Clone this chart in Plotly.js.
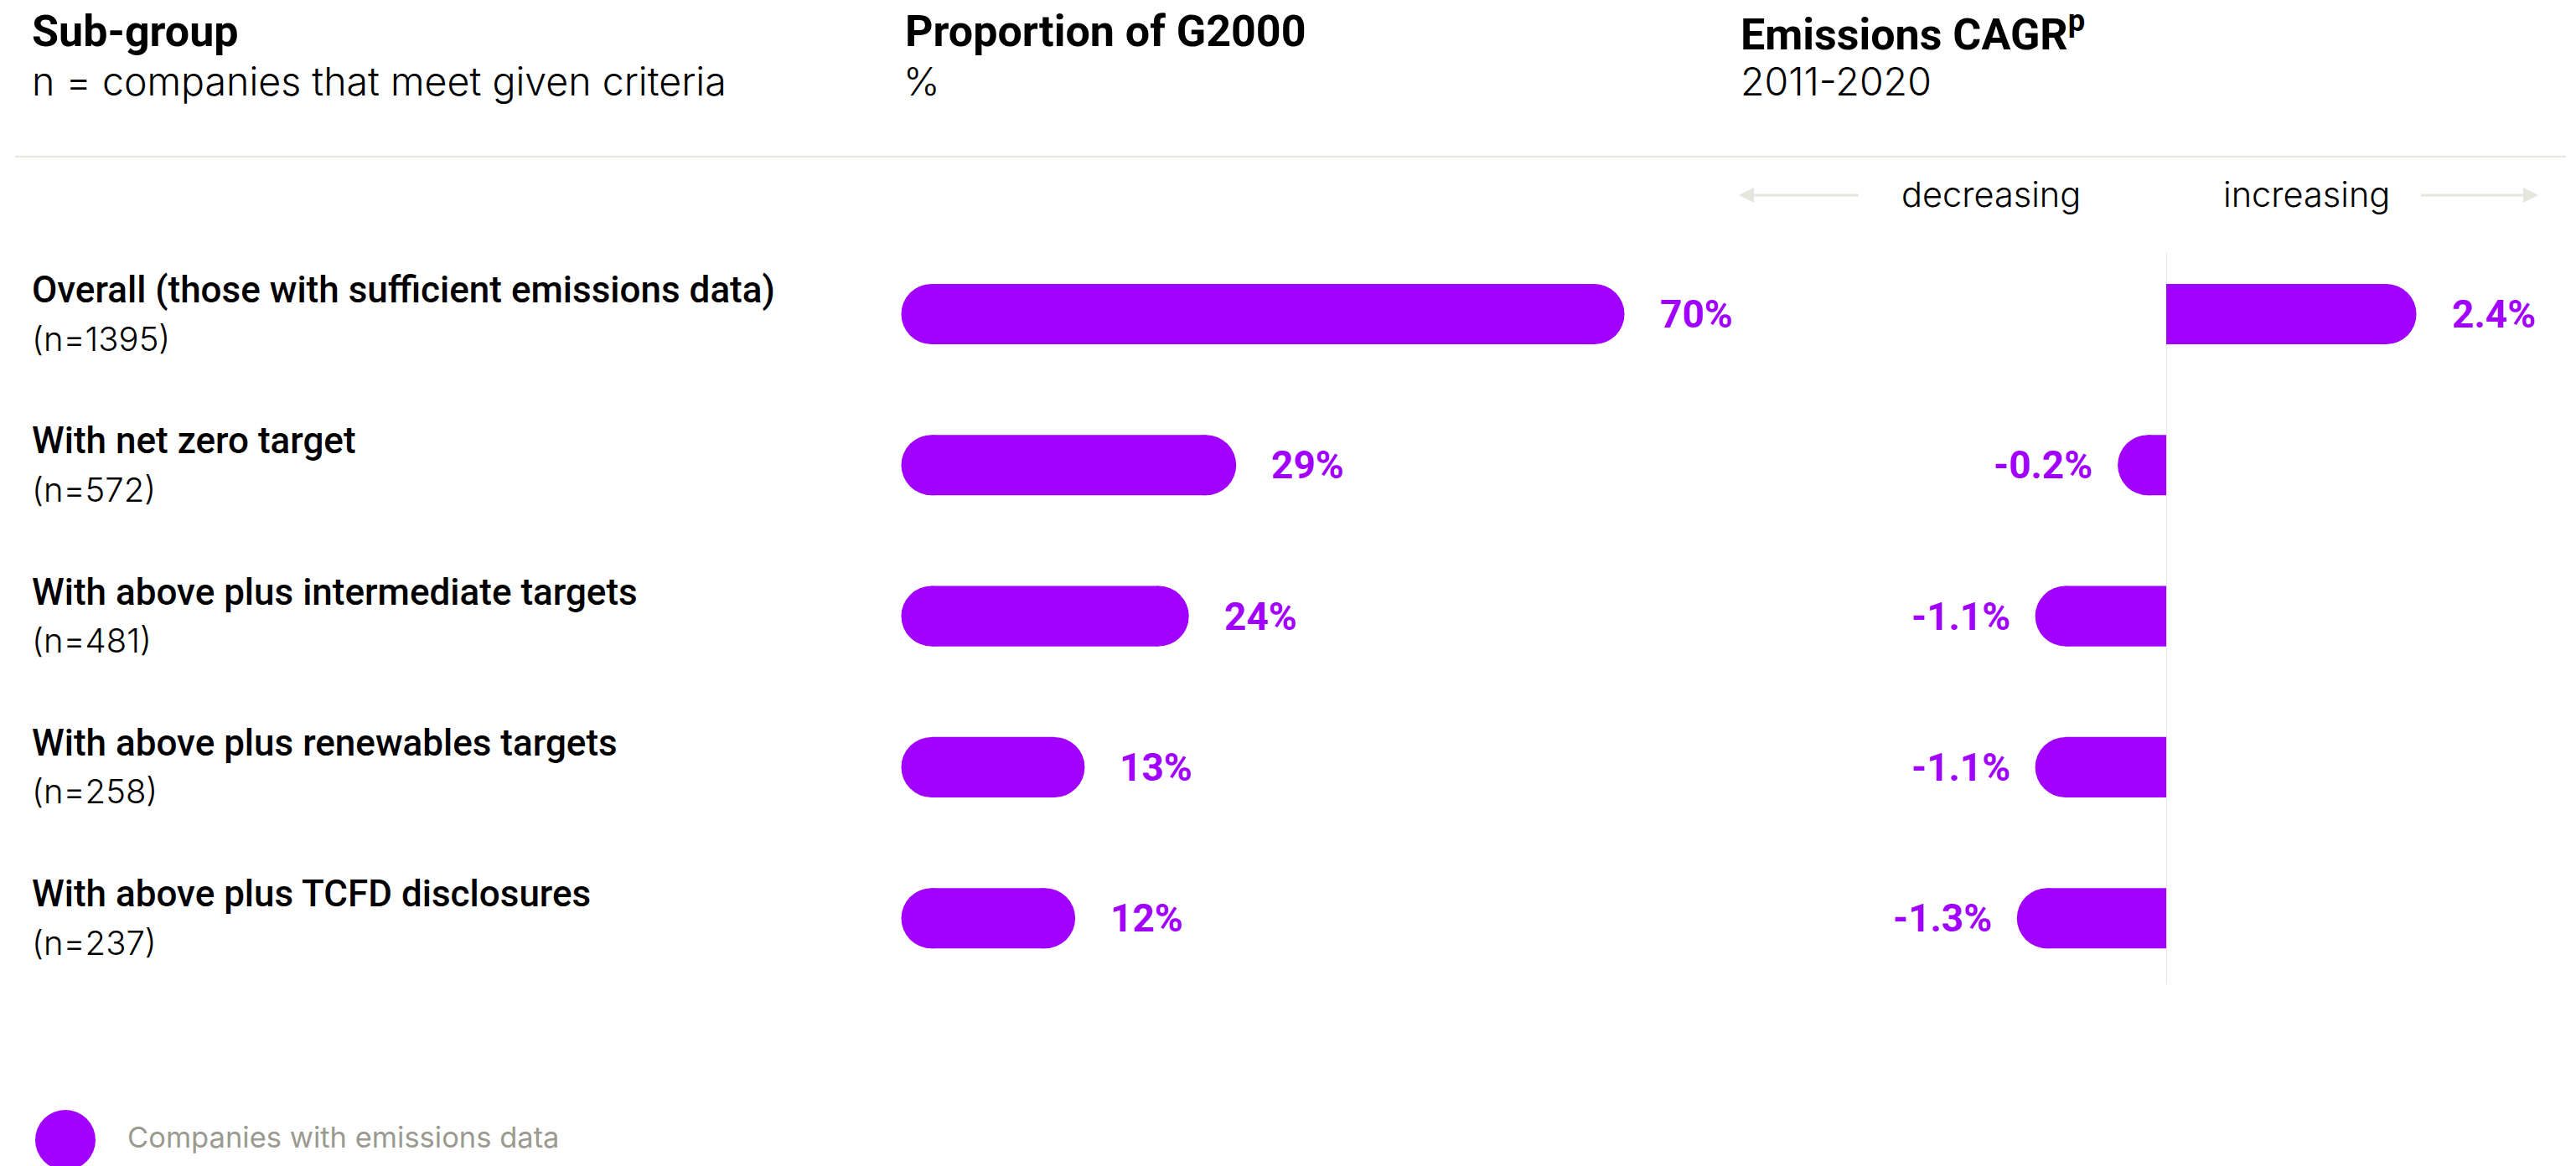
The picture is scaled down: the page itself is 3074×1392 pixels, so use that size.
<!DOCTYPE html>
<html>
<head>
<meta charset="utf-8">
<script src="https://cdn.plot.ly/plotly-3.0.1.min.js"></script>
<style>
  html, body { margin: 0; padding: 0; background: #ffffff; }
  #chart { width: 3074px; height: 1392px; }
</style>
</head>
<body>
<div id="chart"></div>
<script>
// ---------------- data ----------------
const categories = [
  'Overall (those with sufficient emissions data)',
  'With net zero target',
  'With above plus intermediate targets',
  'With above plus renewables targets',
  'With above plus TCFD disclosures'
];
const nCounts = [1395, 572, 481, 258, 237];
const proportion = [70, 29, 24, 13, 12];          // % of G2000
const cagr = [2.4, -0.2, -1.1, -1.1, -1.3];       // emissions CAGR 2011-2020, %
const legendLabel = 'Companies with emissions data';

// ---------------- style ----------------
const W = 3074, H = 1392;
const PURPLE = '#a100ff';
const LINE = '#e6e6df';
const FONT = 'Roboto, "Noto Sans", sans-serif';
const LIGHT = 'Inter, Roboto, sans-serif';
const BAR_W = 0.4;            // bar thickness in row units
const CAP = 72;               // px diameter of round ends

// pixel layout helpers (layout only)
const px = v => v / W;
const py = v => 1 - v / H;

// proportion axis: zero at 1111.5px, 11.3 px per %
const pZero = 1111.5, pScale = 11.3;
const pDom = [1000, 2050];
// CAGR axis: zero at 2585px, 109.4 px per %
const cZero = 2585, cScale = 109.4;
const cLeft = 2080;

// rows: center of row 0 at 375px, 180.3px per row
const rowTop = 375, rowStep = 180.3;
const yRange = [(H - rowTop) / rowStep, -rowTop / rowStep];

const zeros = categories.map(() => 0);
const negIdx = cagr.map((v, i) => v < 0 ? i : -1).filter(i => i >= 0);
const posIdx = cagr.map((v, i) => v >= 0 ? i : -1).filter(i => i >= 0);

const barBase = {
  type: 'bar', orientation: 'h', width: BAR_W,
  marker: { color: PURPLE, line: { width: 0 } },
  hoverinfo: 'skip', showlegend: false
};
const capBase = {
  type: 'scatter', mode: 'markers',
  marker: { color: PURPLE, size: CAP, symbol: 'circle', line: { width: 0 } },
  hoverinfo: 'skip', showlegend: false, cliponaxis: true
};

const traces = [
  // proportion bars with round ends
  Object.assign({}, barBase, { x: proportion, y: categories, xaxis: 'x', yaxis: 'y', name: legendLabel }),
  Object.assign({}, capBase, { x: zeros, y: categories, xaxis: 'x', yaxis: 'y' }),
  Object.assign({}, capBase, { x: proportion, y: categories, xaxis: 'x', yaxis: 'y' }),
  // CAGR negative side
  Object.assign({}, barBase, { x: negIdx.map(i => cagr[i]), y: negIdx.map(i => categories[i]), xaxis: 'x2', yaxis: 'y' }),
  Object.assign({}, capBase, { x: negIdx.map(i => cagr[i]), y: negIdx.map(i => categories[i]), xaxis: 'x2', yaxis: 'y' }),
  // CAGR positive side
  Object.assign({}, barBase, { x: posIdx.map(i => cagr[i]), y: posIdx.map(i => categories[i]), xaxis: 'x3', yaxis: 'y' }),
  Object.assign({}, capBase, { x: posIdx.map(i => cagr[i]), y: posIdx.map(i => categories[i]), xaxis: 'x3', yaxis: 'y' })
];

const hidden = {
  showgrid: false, zeroline: false, showline: false,
  showticklabels: false, ticks: '', fixedrange: true
};

const annotations = [];
function txt(text, x, y, size, weight, family, color, anchor) {
  annotations.push({
    text: text, x: x, y: y, xref: 'paper', yref: 'paper',
    xanchor: anchor || 'left', yanchor: 'middle', showarrow: false,
    font: { family: family, size: size, weight: weight, color: color || '#000000' }
  });
}

// column headers
txt('Sub-group', px(36), py(38), 52, 700, FONT);
txt('n = companies that meet given criteria', px(36), py(97), 46.5, 300, LIGHT);
txt('Proportion of G2000', px(1078), py(38), 52, 700, FONT);
txt('%', px(1076), py(97), 46.5, 300, LIGHT);
txt('Emissions CAGR<sup>p</sup>', px(2075), py(38), 52, 700, FONT);
txt('2011-2020', px(2075), py(97), 46.5, 300, LIGHT);

// direction labels
txt('decreasing', px(2376), py(232), 41.5, 300, LIGHT, '#000000', 'center');
txt('increasing', px(2752), py(232), 41.5, 300, LIGHT, '#000000', 'center');

// row labels
categories.forEach((c, i) => {
  annotations.push({
    text: c, x: px(36), y: c, xref: 'paper', yref: 'y', yshift: 29,
    xanchor: 'left', yanchor: 'middle', showarrow: false,
    font: { family: FONT, size: 44, weight: 500, color: '#000000' }
  });
  annotations.push({
    text: '(n=' + nCounts[i] + ')', x: px(36), y: c, xref: 'paper', yref: 'y', yshift: -29,
    xanchor: 'left', yanchor: 'middle', showarrow: false,
    font: { family: LIGHT, size: 40, weight: 300, color: '#000000' }
  });
});

// value labels
const valFont = { family: FONT, size: 46, weight: 700, color: PURPLE };
proportion.forEach((v, i) => {
  annotations.push({
    text: v + '%', x: v, y: categories[i], xref: 'x', yref: 'y',
    xanchor: 'left', yanchor: 'middle', xshift: CAP / 2 + 40, showarrow: false, font: valFont
  });
});
cagr.forEach((v, i) => {
  const neg = v < 0;
  annotations.push({
    text: v.toFixed(1) + '%', x: v, y: categories[i], xref: neg ? 'x2' : 'x3', yref: 'y',
    xanchor: neg ? 'right' : 'left', yanchor: 'middle',
    xshift: neg ? -(CAP / 2 + 28) : (CAP / 2 + 40), showarrow: false, font: valFont
  });
});

// legend
txt(legendLabel, px(150), py(1357), 34.5, 400, LIGHT, '#9a9a90');

// arrow helper (line + triangular head), in page pixels
function arrow(tail, head, y) {
  const dir = head < tail ? -1 : 1;
  const hl = 18, hw = 9;
  const base = head - dir * hl;
  return [
    { type: 'line', xref: 'paper', yref: 'paper', x0: px(tail), x1: px(base), y0: py(y), y1: py(y),
      line: { color: LINE, width: 3 } },
    { type: 'path', xref: 'paper', yref: 'paper',
      path: 'M' + px(head) + ',' + py(y) + ' L' + px(base) + ',' + py(y - hw) +
            ' L' + px(base) + ',' + py(y + hw) + ' Z',
      fillcolor: LINE, line: { width: 0 } }
  ];
}

const shapes = [
  // header divider
  { type: 'line', xref: 'paper', yref: 'paper', x0: px(18), x1: px(3062), y0: py(187), y1: py(187),
    line: { color: LINE, width: 2 }, layer: 'below' },
  // zero line for CAGR
  { type: 'line', xref: 'x3', yref: 'paper', x0: 0, x1: 0, y0: py(1175), y1: py(301),
    line: { color: LINE, width: 2 }, layer: 'below' },
  // legend swatch
  { type: 'circle', xref: 'paper', yref: 'paper', x0: px(42), x1: px(114), y0: py(1397), y1: py(1325),
    fillcolor: PURPLE, line: { width: 0 } }
].concat(arrow(2218, 2075, 233), arrow(2889, 3029, 233));

const layout = {
  width: W, height: H,
  margin: { l: 0, r: 0, t: 0, b: 0, pad: 0 },
  paper_bgcolor: '#ffffff', plot_bgcolor: 'rgba(0,0,0,0)',
  showlegend: false, hovermode: false, barmode: 'overlay',
  font: { family: FONT },
  xaxis: Object.assign({}, hidden, {
    domain: [px(pDom[0]), px(pDom[1])],
    range: [(pDom[0] - pZero) / pScale, (pDom[1] - pZero) / pScale], anchor: 'y'
  }),
  xaxis2: Object.assign({}, hidden, {
    domain: [px(cLeft), px(cZero)],
    range: [(cLeft - cZero) / cScale, 0], anchor: 'y'
  }),
  xaxis3: Object.assign({}, hidden, {
    domain: [px(cZero), 1],
    range: [0, (W - cZero) / cScale], anchor: 'y'
  }),
  yaxis: Object.assign({}, hidden, {
    type: 'category', categoryorder: 'array', categoryarray: categories,
    domain: [0, 1], range: yRange, anchor: 'x'
  }),
  annotations: annotations,
  shapes: shapes
};

Plotly.newPlot('chart', traces, layout, { displayModeBar: false, staticPlot: true });
</script>
</body>
</html>
